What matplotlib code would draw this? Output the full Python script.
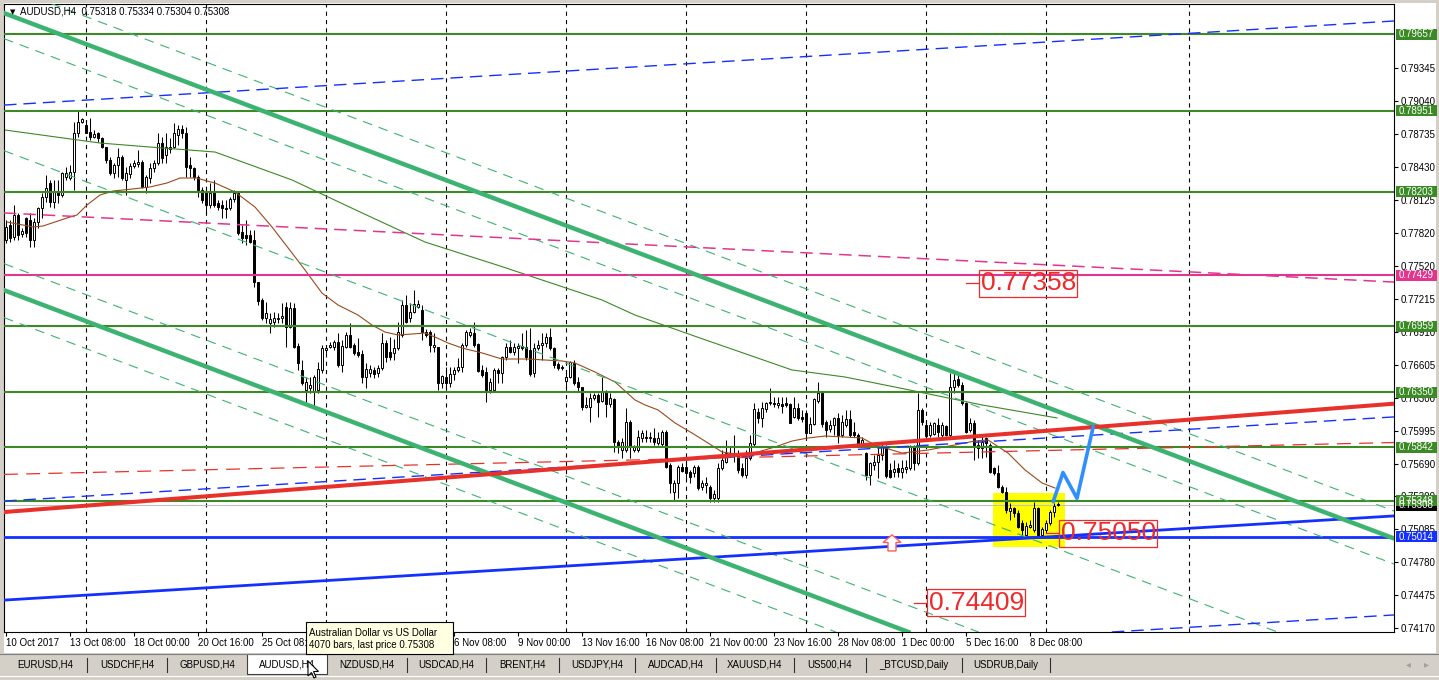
import matplotlib
matplotlib.use("Agg")
import matplotlib.pyplot as plt
from matplotlib.patches import Rectangle, Polygon
import numpy as np

plt.rcParams['font.family'] = ['Liberation Sans', 'DejaVu Sans']
plt.rcParams['lines.scale_dashes'] = False

W, H = 1439, 680

# AUDUSD H4 candles, bar 0 = 10 Oct 2017 16:00
opens = [0.77756, 0.77894, 0.77786, 0.77987, 0.77811, 0.77956, 0.77940, 0.77756, 0.77925, 0.78048,
         0.78156, 0.78279, 0.78109, 0.78200, 0.78171, 0.78340, 0.78325, 0.78387, 0.78740, 0.78848,
         0.78817, 0.78756, 0.78704, 0.78740, 0.78694, 0.78617, 0.78494, 0.78371, 0.78448, 0.78519,
         0.78310, 0.78365, 0.78439, 0.78454, 0.78479, 0.78248, 0.78325, 0.78417, 0.78463, 0.78648,
         0.78540, 0.78593, 0.78617, 0.78725, 0.78777, 0.78740, 0.78448, 0.78417, 0.78340, 0.78217,
         0.78202, 0.78079, 0.78202, 0.78100, 0.78079, 0.78048, 0.78048, 0.78131, 0.78187, 0.77833,
         0.77802, 0.77802, 0.77756, 0.77371, 0.77202, 0.77033, 0.76992, 0.77002, 0.77023, 0.77033,
         0.77140, 0.76956, 0.77125, 0.76777, 0.76556, 0.76371, 0.76386, 0.76356, 0.76371, 0.76556,
         0.76740, 0.76771, 0.76771, 0.76817, 0.76602, 0.76771, 0.76879, 0.76787, 0.76725, 0.76702,
         0.76494, 0.76532, 0.76556, 0.76525, 0.76571, 0.76808, 0.76725, 0.76715, 0.76756, 0.76879,
         0.77156, 0.77033, 0.77094, 0.77140, 0.77110, 0.76910, 0.76910, 0.76765, 0.76771, 0.76433,
         0.76488, 0.76439, 0.76519, 0.76556, 0.76587, 0.76787, 0.76879, 0.76894, 0.76797, 0.76556,
         0.76540, 0.76371, 0.76371, 0.76556, 0.76525, 0.76673, 0.76765, 0.76725, 0.76762, 0.76777,
         0.76771, 0.76740, 0.76525, 0.76756, 0.76787, 0.76808, 0.76864, 0.76756, 0.76612, 0.76587,
         0.76457, 0.76494, 0.76617, 0.76448, 0.76396, 0.76212, 0.76217, 0.76294, 0.76325, 0.76273,
         0.76356, 0.76242, 0.76290, 0.75894, 0.75817, 0.75817, 0.76079, 0.75817, 0.75817, 0.75925,
         0.75941, 0.75925, 0.75931, 0.75879, 0.75873, 0.75987, 0.75679, 0.75433, 0.75510, 0.75663,
         0.75663, 0.75617, 0.75602, 0.75658, 0.75479, 0.75494, 0.75479, 0.75371, 0.75371, 0.75648,
         0.75710, 0.75781, 0.75779, 0.75771, 0.75648, 0.75587, 0.75740, 0.75873, 0.76171, 0.76110,
         0.76192, 0.76248, 0.76254, 0.76233, 0.76242, 0.76248, 0.76238, 0.76125, 0.76202, 0.76125,
         0.76156, 0.75977, 0.76054, 0.76273, 0.76346, 0.76079, 0.76008, 0.76048, 0.76110, 0.75956,
         0.76048, 0.76100, 0.75987, 0.75956, 0.75864, 0.75787, 0.75587, 0.75679, 0.75710, 0.75771,
         0.75854, 0.75633, 0.75617, 0.75648, 0.75617, 0.75644, 0.75648, 0.75848, 0.75694, 0.76187,
         0.76048, 0.75956, 0.75966, 0.76048, 0.75956, 0.76040, 0.75956, 0.76402, 0.76469, 0.76417,
         0.76248, 0.76002, 0.76063, 0.75864, 0.75833, 0.75925, 0.75864, 0.75648, 0.75608, 0.75479,
         0.75433, 0.75258, 0.75279, 0.75238, 0.75140, 0.75033, 0.75110, 0.75079, 0.75279, 0.75033,
         0.75079, 0.75146, 0.75248, 0.75318]
highs = [0.77940, 0.77940, 0.78079, 0.78002, 0.77867, 0.77971, 0.78002, 0.77956, 0.78063, 0.78187,
         0.78356, 0.78310, 0.78310, 0.78310, 0.78387, 0.78433, 0.78448, 0.78848, 0.78956, 0.78879,
         0.78863, 0.78879, 0.78771, 0.78756, 0.78709, 0.78617, 0.78525, 0.78463, 0.78602, 0.78540,
         0.78433, 0.78463, 0.78494, 0.78587, 0.78494, 0.78356, 0.78463, 0.78494, 0.78740, 0.78709,
         0.78740, 0.78694, 0.78833, 0.78817, 0.78817, 0.78802, 0.78525, 0.78433, 0.78356, 0.78248,
         0.78248, 0.78279, 0.78310, 0.78125, 0.78125, 0.78125, 0.78156, 0.78217, 0.78202, 0.77894,
         0.77940, 0.77848, 0.77848, 0.77371, 0.77217, 0.77187, 0.77079, 0.77094, 0.77079, 0.77171,
         0.77187, 0.77187, 0.77177, 0.76802, 0.76648, 0.76494, 0.76494, 0.76510, 0.76633, 0.76787,
         0.76787, 0.76817, 0.76833, 0.76894, 0.76833, 0.76910, 0.76987, 0.76802, 0.76848, 0.76740,
         0.76617, 0.76602, 0.76587, 0.76602, 0.76894, 0.76833, 0.76864, 0.76839, 0.77002, 0.77202,
         0.77248, 0.77171, 0.77294, 0.77202, 0.77156, 0.76935, 0.76925, 0.76894, 0.76771, 0.76510,
         0.76587, 0.76587, 0.76587, 0.76663, 0.76802, 0.76925, 0.76940, 0.77002, 0.76802, 0.76602,
         0.76587, 0.76479, 0.76571, 0.76571, 0.76685, 0.76802, 0.76833, 0.76802, 0.76808, 0.76894,
         0.76925, 0.76940, 0.76802, 0.76833, 0.76894, 0.76894, 0.76940, 0.76771, 0.76633, 0.76602,
         0.76540, 0.76642, 0.76648, 0.76494, 0.76402, 0.76310, 0.76340, 0.76340, 0.76340, 0.76494,
         0.76371, 0.76340, 0.76300, 0.75910, 0.75925, 0.76202, 0.76094, 0.75864, 0.76002, 0.76002,
         0.76002, 0.75987, 0.76017, 0.75987, 0.76002, 0.76002, 0.75694, 0.75540, 0.75679, 0.75694,
         0.75725, 0.75633, 0.75679, 0.75679, 0.75540, 0.75571, 0.75494, 0.75448, 0.75694, 0.75817,
         0.75910, 0.75848, 0.75956, 0.75817, 0.75694, 0.75817, 0.75956, 0.76248, 0.76202, 0.76264,
         0.76264, 0.76387, 0.76310, 0.76310, 0.76310, 0.76310, 0.76248, 0.76310, 0.76248, 0.76187,
         0.76187, 0.76125, 0.76294, 0.76448, 0.76356, 0.76094, 0.76094, 0.76125, 0.76156, 0.76140,
         0.76187, 0.76187, 0.76079, 0.75971, 0.75941, 0.75802, 0.75710, 0.75771, 0.75848, 0.75894,
         0.75864, 0.75694, 0.75725, 0.75694, 0.75725, 0.75725, 0.75864, 0.75864, 0.76340, 0.76202,
         0.76079, 0.76079, 0.76079, 0.76110, 0.76079, 0.76048, 0.76525, 0.76525, 0.76510, 0.76448,
         0.76264, 0.76110, 0.76094, 0.75910, 0.75956, 0.75941, 0.75879, 0.75663, 0.75679, 0.75494,
         0.75479, 0.75325, 0.75294, 0.75264, 0.75171, 0.75156, 0.75171, 0.75340, 0.75294, 0.75110,
         0.75171, 0.75264, 0.75325, 0.75334]
lows = [0.77725, 0.77738, 0.77756, 0.77756, 0.77786, 0.77786, 0.77694, 0.77694, 0.77864, 0.77956,
        0.78109, 0.78063, 0.78048, 0.78094, 0.78156, 0.78310, 0.78310, 0.78217, 0.78709, 0.78833,
        0.78740, 0.78679, 0.78694, 0.78663, 0.78602, 0.78463, 0.78356, 0.78325, 0.78340, 0.78310,
        0.78171, 0.78325, 0.78417, 0.78433, 0.78233, 0.78187, 0.78279, 0.78387, 0.78448, 0.78463,
        0.78463, 0.78556, 0.78602, 0.78633, 0.78694, 0.78340, 0.78340, 0.78310, 0.78156, 0.78094,
        0.78002, 0.78048, 0.78063, 0.78033, 0.77956, 0.77956, 0.78033, 0.78109, 0.77802, 0.77725,
        0.77710, 0.77725, 0.77325, 0.77156, 0.77017, 0.76987, 0.76894, 0.76956, 0.76987, 0.76987,
        0.76771, 0.76940, 0.76756, 0.76556, 0.76417, 0.76248, 0.76340, 0.76217, 0.76340, 0.76530,
        0.76710, 0.76756, 0.76740, 0.76587, 0.76540, 0.76756, 0.76756, 0.76694, 0.76679, 0.76433,
        0.76387, 0.76494, 0.76479, 0.76494, 0.76556, 0.76633, 0.76648, 0.76648, 0.76740, 0.76864,
        0.76987, 0.77002, 0.77079, 0.77125, 0.76833, 0.76864, 0.76725, 0.76725, 0.76371, 0.76387,
        0.76387, 0.76402, 0.76463, 0.76540, 0.76540, 0.76771, 0.76864, 0.76771, 0.76540, 0.76494,
        0.76264, 0.76340, 0.76356, 0.76439, 0.76433, 0.76648, 0.76710, 0.76694, 0.76617, 0.76740,
        0.76648, 0.76500, 0.76494, 0.76740, 0.76648, 0.76771, 0.76740, 0.76571, 0.76556, 0.76556,
        0.76387, 0.76479, 0.76417, 0.76356, 0.76187, 0.76202, 0.76079, 0.76279, 0.76125, 0.76264,
        0.76125, 0.76217, 0.75802, 0.75787, 0.75740, 0.75802, 0.75740, 0.75802, 0.75802, 0.75894,
        0.75894, 0.75894, 0.75864, 0.75864, 0.75848, 0.75648, 0.75417, 0.75356, 0.75371, 0.75617,
        0.75540, 0.75510, 0.75571, 0.75448, 0.75448, 0.75417, 0.75340, 0.75340, 0.75340, 0.75633,
        0.75694, 0.75756, 0.75710, 0.75602, 0.75571, 0.75556, 0.75725, 0.75848, 0.76063, 0.76033,
        0.76171, 0.76233, 0.76217, 0.76202, 0.76156, 0.76217, 0.76063, 0.76110, 0.76094, 0.76079,
        0.75910, 0.75971, 0.76048, 0.76248, 0.76033, 0.75941, 0.75987, 0.75956, 0.75879, 0.75940,
        0.76033, 0.75941, 0.75941, 0.75848, 0.75848, 0.75540, 0.75494, 0.75633, 0.75556, 0.75725,
        0.75556, 0.75556, 0.75571, 0.75571, 0.75556, 0.75602, 0.75633, 0.75633, 0.75679, 0.76048,
        0.75925, 0.75941, 0.75956, 0.75941, 0.75941, 0.75944, 0.75941, 0.76340, 0.76402, 0.76233,
        0.75971, 0.75987, 0.75725, 0.75740, 0.75740, 0.75756, 0.75602, 0.75587, 0.75463, 0.75417,
        0.75233, 0.75171, 0.75202, 0.75094, 0.75017, 0.75017, 0.75094, 0.75063, 0.75033, 0.75017,
        0.75048, 0.75125, 0.75202, 0.75304]
closes = [0.77879, 0.77771, 0.77987, 0.77802, 0.77842, 0.77817, 0.77756, 0.77925, 0.78048, 0.78156,
          0.78233, 0.78109, 0.78200, 0.78171, 0.78371, 0.78371, 0.78387, 0.78740, 0.78848, 0.78870,
          0.78746, 0.78704, 0.78734, 0.78694, 0.78617, 0.78494, 0.78371, 0.78448, 0.78519, 0.78325,
          0.78371, 0.78442, 0.78463, 0.78479, 0.78248, 0.78335, 0.78417, 0.78469, 0.78648, 0.78510,
          0.78617, 0.78617, 0.78740, 0.78777, 0.78740, 0.78433, 0.78417, 0.78340, 0.78217, 0.78125,
          0.78079, 0.78190, 0.78079, 0.78063, 0.78048, 0.78040, 0.78131, 0.78187, 0.77817, 0.77771,
          0.77771, 0.77740, 0.77371, 0.77196, 0.77033, 0.77079, 0.77023, 0.77033, 0.77038, 0.77054,
          0.76956, 0.77125, 0.76771, 0.76617, 0.76433, 0.76448, 0.76417, 0.76494, 0.76562, 0.76756,
          0.76756, 0.76787, 0.76817, 0.76602, 0.76777, 0.76879, 0.76771, 0.76710, 0.76694, 0.76494,
          0.76562, 0.76562, 0.76519, 0.76571, 0.76808, 0.76679, 0.76679, 0.76756, 0.76910, 0.77156,
          0.77002, 0.77094, 0.77165, 0.77165, 0.76910, 0.76879, 0.76787, 0.76787, 0.76433, 0.76500,
          0.76439, 0.76519, 0.76556, 0.76587, 0.76787, 0.76904, 0.76910, 0.76787, 0.76550, 0.76510,
          0.76371, 0.76448, 0.76556, 0.76525, 0.76673, 0.76765, 0.76725, 0.76771, 0.76777, 0.76756,
          0.76679, 0.76519, 0.76756, 0.76787, 0.76808, 0.76864, 0.76756, 0.76602, 0.76577, 0.76577,
          0.76494, 0.76633, 0.76439, 0.76396, 0.76212, 0.76233, 0.76294, 0.76325, 0.76264, 0.76356,
          0.76242, 0.76300, 0.75894, 0.75848, 0.75894, 0.76079, 0.75850, 0.75848, 0.75941, 0.75971,
          0.75925, 0.75941, 0.75894, 0.75925, 0.75987, 0.75663, 0.75510, 0.75510, 0.75663, 0.75627,
          0.75602, 0.75571, 0.75658, 0.75463, 0.75510, 0.75510, 0.75371, 0.75411, 0.75648, 0.75725,
          0.75787, 0.75794, 0.75794, 0.75633, 0.75587, 0.75740, 0.75879, 0.76192, 0.76110, 0.76202,
          0.76248, 0.76260, 0.76240, 0.76248, 0.76223, 0.76233, 0.76069, 0.76202, 0.76110, 0.76100,
          0.75971, 0.76054, 0.76285, 0.76346, 0.76057, 0.76002, 0.76048, 0.76110, 0.75956, 0.76079,
          0.76100, 0.75956, 0.75956, 0.75864, 0.75910, 0.75587, 0.75694, 0.75710, 0.75771, 0.75854,
          0.75577, 0.75571, 0.75638, 0.75617, 0.75648, 0.75663, 0.75854, 0.75694, 0.76187, 0.76079,
          0.75946, 0.76048, 0.76063, 0.75987, 0.76048, 0.75956, 0.76402, 0.76463, 0.76417, 0.76248,
          0.75987, 0.76063, 0.75864, 0.75833, 0.75894, 0.75879, 0.75617, 0.75602, 0.75479, 0.75433,
          0.75264, 0.75279, 0.75233, 0.75110, 0.75079, 0.75119, 0.75125, 0.75279, 0.75033, 0.75085,
          0.75146, 0.75248, 0.75304, 0.75308]

time_labels = ["10 Oct 2017", "13 Oct 08:00", "18 Oct 00:00", "20 Oct 16:00", "25 Oct 08:00",
               "30 Oct 00:00", "1 Nov 16:00", "6 Nov 08:00", "9 Nov 00:00", "13 Nov 16:00",
               "16 Nov 08:00", "21 Nov 00:00", "23 Nov 16:00", "28 Nov 08:00", "1 Dec 00:00",
               "5 Dec 16:00", "8 Dec 08:00"]
grid_bars = [20, 50, 80, 110, 140, 170, 200, 230, 260, 295.75]

price_ticks = [0.79345, 0.79040, 0.78735, 0.78430, 0.78125, 0.77820, 0.77520, 0.77215, 0.76910,
               0.76605, 0.76300, 0.75995, 0.75690, 0.75390, 0.75085, 0.74780, 0.74475, 0.74170]

green_levels = [0.79657, 0.78951, 0.78203, 0.76959, 0.76350, 0.75842, 0.75348]
pink_level = 0.77429
blue_level = 0.75014
last_price = 0.75308

# moving averages (bar, price)
fast_ma_bars = [0.25, 6.75, 9.25, 15.25, 17.75, 20.25, 23.5, 26.75, 31.75, 36, 40.25, 43.5, 47.75,
                50.25, 52.25, 57.25, 62.25, 66.5, 71.5, 74.75, 79, 83, 88, 91.5, 94.75, 98, 101.5,
                104.75, 107.25, 110.5, 114, 119, 124, 130.5, 134.75, 139, 142.25, 147.25, 152.25,
                157.25, 159.75, 163, 167.25, 171.5, 175.5, 179, 184, 188, 192.25, 196.5, 200.5,
                204.75, 209.75, 214, 217.25, 224, 230.5, 237.25, 242.25, 245.5, 250.5, 254.75, 259,
                262.25]
fast_ma_vals = [0.77922, 0.77876, 0.77885, 0.77959, 0.77987, 0.78079, 0.78171, 0.78208, 0.78227,
                0.78245, 0.78282, 0.78328, 0.78328, 0.78300, 0.78282, 0.78199, 0.78060, 0.77876,
                0.77636, 0.77479, 0.77266, 0.77156, 0.77063, 0.76971, 0.76906, 0.76879, 0.76888,
                0.76897, 0.76860, 0.76805, 0.76759, 0.76713, 0.76657, 0.76657, 0.76648, 0.76639,
                0.76620, 0.76537, 0.76445, 0.76279, 0.76233, 0.76187, 0.76067, 0.75974, 0.75882,
                0.75799, 0.75771, 0.75799, 0.75845, 0.75900, 0.75928, 0.75946, 0.75937, 0.75928,
                0.75864, 0.75789, 0.75817, 0.75864, 0.75900, 0.75910, 0.75789, 0.75633, 0.75513,
                0.75466]
slow_ma_bars = [-0.25, 23.5, 36, 52.25, 71.5, 88, 104.75, 123.5, 149, 157.25, 173.5, 196.5, 209.75,
                223.5, 244, 262.75]
slow_ma_vals = [0.78771, 0.78651, 0.78614, 0.78568, 0.78310, 0.78023, 0.77737, 0.77516, 0.77202,
                0.77063, 0.76851, 0.76556, 0.76491, 0.76389, 0.76233, 0.76113]

# trend lines as (price at left anchor, price at right anchor)
anchor_bars = (-0.25, 346.75)
green_thick = [(0.79847, 0.75004), (0.77289, 0.72446)]
green_dashed = [(0.80100, 0.75257), (0.79611, 0.74768), (0.78577, 0.73734),
                (0.77534, 0.72691), (0.77036, 0.72193)]
blue_solid = (0.74432, 0.75208)
blue_dashed = [(0.79002, 0.79777), (0.75346, 0.76122), (0.73519, 0.74294)]
red_solid = (0.75245, 0.76244)
red_dashed = (0.75592, 0.75886)
pink_dashed = (0.78005, 0.77368)

zig_bars = [261.8, 264.25, 267.75, 271.8]
zig_prices = [0.75340, 0.75609, 0.75371, 0.76032]
rect_bars = (246.8, 264.75)
rect_prices = (0.74919, 0.75417)

label_bars = [240, 260, 227]
label_prices = [0.77358, 0.75050, 0.74409]
arrow_bar, arrow_price = 221.5, 0.75033

tab_names = ["EURUSD,H4", "USDCHF,H4", "GBPUSD,H4", "AUDUSD,H4", "NZDUSD,H4", "USDCAD,H4",
             "BRENT,H4", "USDJPY,H4", "AUDCAD,H4", "XAUUSD,H4", "US500,H4", "_BTCUSD,Daily",
             "USDRUB,Daily"]
tab_edges = [4, 87, 167, 247, 327, 407, 486, 559, 635, 716, 794, 866, 962, 1050]
active_tab = 3

GREEN_H = '#3b8a26'
SEA = '#3cb371'
RED = '#e8312a'
BLUE = '#1430ff'
PINK = '#e2368e'
ZIG = '#2f8fff'
BROWN = '#9a4a1c'
LRED = '#ee2a2a'

fig = plt.figure(figsize=(W / 100, H / 100), dpi=100, facecolor='#d4d0c8')

bg = fig.add_axes([0, 0, 1, 1], zorder=0)
bg.set_xlim(0, W)
bg.set_ylim(H, 0)
bg.axis('off')
bg.add_patch(Rectangle((4, 3), 1432, 650, fc='white', ec='none'))
bg.plot([0, W], [653.5, 653.5], color='#808080', lw=0.8)
bg.plot([0, W], [675.5, 675.5], color='white', lw=0.8)
for i, name in enumerate(tab_names):
    x0, x1 = tab_edges[i], tab_edges[i + 1]
    if i == active_tab:
        bg.add_patch(Rectangle((x0, 654), x1 - x0, 20, fc='white', ec='#404040', lw=0.8))
    elif i + 1 != active_tab:
        bg.plot([x1, x1], [658, 672], color='#303030', lw=0.8)
    bg.text((x0 + x1) / 2, 664.5, name, fontsize=7, ha='center', va='center', color='black')
bg.text(1408, 664, '◂', fontsize=7, color='#a0a0a0', ha='center', va='center', family='DejaVu Sans')
bg.text(1426, 664, '▸', fontsize=7, color='#a0a0a0', ha='center', va='center', family='DejaVu Sans')

ax = fig.add_axes([4 / W, (H - 632) / H, 1390 / W, 628.5 / H], zorder=1)
ax.set_facecolor('white')
ax.set_xlim(-0.5, 347)
ax.set_ylim(0.74137, 0.79939)
for s in ax.spines.values():
    s.set_color('black')
    s.set_linewidth(0.8)

for gb in grid_bars:
    ax.axvline(gb, color='black', lw=0.8, ls=(0, (3, 3)), zorder=0.5)

ax.add_patch(Rectangle((rect_bars[0], rect_prices[0]), rect_bars[1] - rect_bars[0],
                       rect_prices[1] - rect_prices[0], fc='#ffff00', ec='none', zorder=0.8))

o = np.array(opens)
c = np.array(closes)
h = np.maximum(np.array(highs), np.maximum(o, c))
l = np.minimum(np.array(lows), np.minimum(o, c))
x = np.arange(len(o))
up = c >= o
ax.vlines(x, l, h, color='black', lw=0.75, zorder=2)
bot = np.minimum(o, c)
hgt = np.maximum(np.abs(c - o), 0.00002)
ax.bar(x[up], hgt[up], bottom=bot[up], width=0.55, color='white', edgecolor='black',
       linewidth=0.7, zorder=2.1)
ax.bar(x[~up], hgt[~up], bottom=bot[~up], width=0.55, color='black', edgecolor='black',
       linewidth=0.7, zorder=2.1)

ax.plot(fast_ma_bars, fast_ma_vals, color=BROWN, lw=0.8, zorder=2.5)
ax.plot(slow_ma_bars, slow_ma_vals, color=GREEN_H, lw=0.8, zorder=2.5)

ax.axhline(last_price, color='#c0c0c0', lw=0.8, zorder=1.5)
for lv in green_levels:
    ax.axhline(lv, color=GREEN_H, lw=1.5, zorder=3)
ax.axhline(pink_level, color=PINK, lw=1.5, zorder=3)
ax.axhline(blue_level, color=BLUE, lw=2.0, zorder=3)

for p0, p1 in green_dashed:
    ax.axline((anchor_bars[0], p0), (anchor_bars[1], p1), color=SEA, lw=0.8,
              ls=(0, (7, 5)), zorder=3)
for p0, p1 in green_thick:
    ax.axline((anchor_bars[0], p0), (anchor_bars[1], p1), color=SEA, lw=3.2, zorder=3.2)
for p0, p1 in blue_dashed:
    ax.axline((anchor_bars[0], p0), (anchor_bars[1], p1), color=BLUE, lw=1.0,
              ls=(0, (9, 5)), zorder=3)
ax.axline((anchor_bars[0], blue_solid[0]), (anchor_bars[1], blue_solid[1]), color=BLUE, lw=2.0,
          zorder=3.1)
ax.axline((anchor_bars[0], pink_dashed[0]), (anchor_bars[1], pink_dashed[1]), color=PINK, lw=1.1,
          ls=(0, (9, 5)), zorder=3)
ax.axline((anchor_bars[0], red_dashed[0]), (anchor_bars[1], red_dashed[1]), color=RED, lw=0.9,
          ls=(0, (10, 6)), zorder=3)
ax.axline((anchor_bars[0], red_solid[0]), (anchor_bars[1], red_solid[1]), color=RED, lw=2.9,
          zorder=3.3)

ax.plot(zig_bars, zig_prices, color=ZIG, lw=2.6, zorder=3.5, solid_capstyle='round')

for b, p in zip(label_bars, label_prices):
    ax.plot([b, b + 3], [p, p], color=LRED, lw=0.9, zorder=4)
    ax.annotate(f"{p:.5f}", xy=(b, p), xytext=(10.5, 0), textcoords='offset points',
                ha='left', va='center', fontsize=19, color=LRED, zorder=4,
                bbox=dict(boxstyle='square,pad=0.06', fc='none', ec=LRED, lw=0.9))

ax.yaxis.tick_right()
ax.set_yticks(price_ticks)
ax.set_yticklabels([f"{t:.5f}" for t in price_ticks])
ax.tick_params(axis='y', direction='out', length=3, width=0.8, pad=2, labelsize=7)
ax.set_xticks(np.arange(len(time_labels)) * 16)
ax.set_xticklabels(time_labels)
ax.tick_params(axis='x', direction='out', length=3, width=0.8, pad=1.5, labelsize=7)
for lbl in ax.get_xticklabels():
    lbl.set_ha('left')

ax.text(8.5 / 1390, 1 - 8.5 / 628.5, '▼', transform=ax.transAxes, fontsize=5, ha='center',
        va='center', family='DejaVu Sans', zorder=5)
ax.text(16.5 / 1390, 1 - 8.5 / 628.5, 'AUDUSD,H4  0.75318 0.75334 0.75304 0.75308',
        transform=ax.transAxes, fontsize=7, ha='left', va='center', zorder=5)

top = fig.add_axes([0, 0, 1, 1], zorder=10)
top.set_xlim(0, W)
top.set_ylim(H, 0)
top.axis('off')
top.patch.set_alpha(0)


def ypix(p):
    return H - ax.transData.transform((0, p))[1]


def xpix(b):
    return ax.transData.transform((b, 0))[0]


# hollow up arrow mark, tip at the anchor price
ax0, ay0 = xpix(arrow_bar), ypix(arrow_price)
arrow_shape = np.array([(0, 0), (9, 7.5), (4, 7.5), (4, 16), (-4, 16), (-4, 7.5), (-9, 7.5)])
top.add_patch(Polygon(arrow_shape + np.array([ax0, ay0]), closed=True, fc='white',
                      ec='#ff5a5a', lw=1.0))

boxes = [(last_price, 'black')] + [(lv, GREEN_H) for lv in green_levels] + \
        [(pink_level, PINK), (blue_level, BLUE)]
for p, col in boxes:
    yy = ypix(p)
    top.add_patch(Rectangle((1396, yy - 5.5), 41, 11, fc=col, ec='none'))
    top.text(1399, yy, f"{p:.5f}", color='white', fontsize=7, ha='left', va='center')

# tooltip and mouse cursor
top.add_patch(Rectangle((306, 622), 147, 32, fc='#ffffe1', ec='black', lw=0.8))
top.text(309, 632.5, 'Australian Dollar vs US Dollar', fontsize=7, ha='left', va='center')
top.text(309, 645, '4070 bars, last price 0.75308', fontsize=7, ha='left', va='center')
cur = np.array([(0, 0), (0, 15), (3.5, 11.5), (6, 17), (8, 16), (5.5, 10.5), (10.5, 10.5)])
top.add_patch(Polygon(cur + np.array([308, 661]), closed=True, fc='white', ec='black', lw=0.8))

fig.savefig('out.png', dpi=100, facecolor=fig.get_facecolor())
